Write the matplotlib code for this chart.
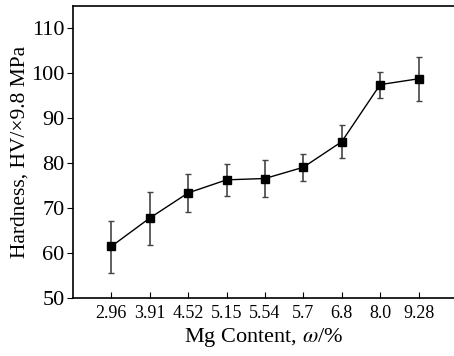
import matplotlib
matplotlib.use("Agg")
import matplotlib.pyplot as plt
import numpy as np

mg_labels = ["2.96", "3.91", "4.52", "5.15", "5.54", "5.7", "6.8", "8.0", "9.28"]
hardness = [61.5, 67.8, 73.4, 76.3, 76.6, 79.1, 84.8, 97.5, 98.8]
err_top = [67.2, 73.7, 77.6, 79.9, 80.7, 82.1, 88.6, 100.4, 103.7]
err_bot = [55.6, 61.9, 69.1, 72.8, 72.5, 76.0, 81.2, 94.5, 93.9]

plt.rcParams['font.family'] = ['Liberation Serif', 'DejaVu Serif']
plt.rcParams['mathtext.fontset'] = 'stix'

fig = plt.figure(figsize=(4.54, 3.56), dpi=100)
ax = fig.add_axes([73 / 454, 58 / 356, 382 / 454, 292 / 356])

x = np.arange(len(mg_labels))
h = np.array(hardness)
yerr = [h - np.array(err_bot), np.array(err_top) - h]

ax.errorbar(x, h, yerr=yerr, fmt='none', ecolor='#444444', elinewidth=1.2,
            capsize=2.5, capthick=1.0, zorder=2)
ax.plot(x, h, color='black', lw=1.0, marker='s', ms=6, zorder=3)

ax.set_xlim(-1, 8.95)
ax.set_ylim(50, 115)
ax.set_yticks([50, 60, 70, 80, 90, 100, 110])
ax.set_xticks(x)
ax.set_xticklabels(mg_labels)

ax.tick_params(axis='x', direction='in', length=4, labelsize=13, pad=5)
ax.tick_params(axis='y', direction='out', length=4, labelsize=16, pad=2)
for s in ax.spines.values():
    s.set_linewidth(1.2)
ax.spines['right'].set_visible(False)

ax.set_ylabel("Hardness, HV/×9.8 MPa", fontsize=15.5, labelpad=1)
ax.set_xlabel("Mg Content, $\\mathit{\\omega}$/%", fontsize=16, labelpad=3)

fig.savefig("out.png", dpi=100)
